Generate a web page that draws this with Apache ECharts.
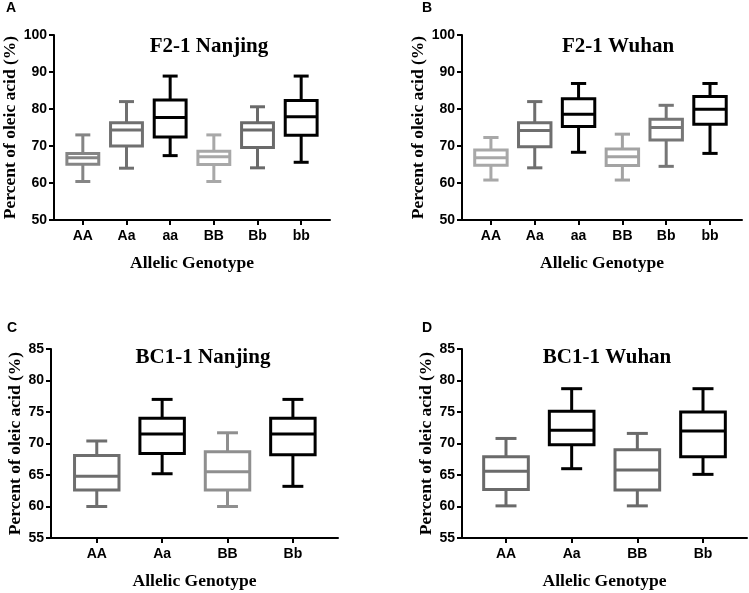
<!DOCTYPE html>
<html>
<head>
<meta charset="utf-8">
<script src="https://cdn.jsdelivr.net/npm/echarts@6/dist/echarts.min.js"></script>
<style>
html,body{margin:0;padding:0;background:#fff;}
#chart{width:749px;height:593px;}
</style>
</head>
<body>
<div id="chart"></div>
<script>
// ---- data ----
const catsF2 = ['AA', 'Aa', 'aa', 'BB', 'Bb', 'bb'];
const catsBC = ['AA', 'Aa', 'BB', 'Bb'];
// each box: [min, Q1, median, Q3, max]
const f2Nanjing = [
  [60.4, 65.1, 66.8, 68.0, 73.0],
  [64.0, 70.0, 74.3, 76.3, 82.0],
  [67.4, 72.4, 77.7, 82.4, 88.9],
  [60.4, 65.0, 67.1, 68.6, 73.0],
  [64.1, 69.6, 74.3, 76.3, 80.6],
  [65.6, 72.9, 77.9, 82.3, 88.9]
];
const f2Wuhan = [
  [60.8, 64.8, 66.8, 68.9, 72.3],
  [64.1, 69.8, 74.2, 76.3, 82.0],
  [68.3, 75.3, 78.6, 82.8, 86.9],
  [60.8, 64.7, 67.1, 69.2, 73.2],
  [64.5, 71.6, 75.0, 77.2, 81.0],
  [68.0, 75.9, 79.9, 83.4, 86.9]
];
const bcNanjing = [
  [60.0, 62.6, 64.8, 68.1, 70.4],
  [65.2, 68.4, 71.5, 74.0, 77.0],
  [60.0, 62.6, 65.5, 68.7, 71.7],
  [63.2, 68.2, 71.5, 74.0, 77.0]
];
const bcWuhan = [
  [60.1, 62.7, 65.6, 67.9, 70.8],
  [66.0, 69.8, 72.1, 75.1, 78.7],
  [60.1, 62.6, 65.8, 69.0, 71.6],
  [65.1, 67.9, 72.0, 75.0, 78.7]
];
const titles = ['F2-1 Nanjing', 'F2-1 Wuhan', 'BC1-1 Nanjing', 'BC1-1 Wuhan'];
const letters = ['A', 'B', 'C', 'D'];
const yTitle = 'Percent of oleic acid (%)';
const xTitle = 'Allelic Genotype';

// ---- styles ----
const colorsA = ['#858585', '#707070', '#000000', '#a8a8a8', '#6a6a6a', '#000000'];
const colorsB = ['#a8a8a8', '#6e6e6e', '#000000', '#a3a3a3', '#767676', '#000000'];
const colorsC = ['#6e6e6e', '#000000', '#8f8f8f', '#000000'];
const colorsD = ['#6a6a6a', '#000000', '#6a6a6a', '#000000'];

const panels = [
  {boxes: f2Nanjing, cats: catsF2, colors: colorsA, grid: {left: 53, top: 35, width: 277, height: 185}, xr: [-0.66, 5.66], yr: [50, 100, 10], yGap: 35, boxFrac: 0.73, tx: 209, ty: 36, lx: 6, ly: 1},
  {boxes: f2Wuhan, cats: catsF2, colors: colorsB, grid: {left: 462, top: 35, width: 280, height: 185}, xr: [-0.66, 5.73], yr: [50, 100, 10], yGap: 35, boxFrac: 0.74, tx: 618, ty: 36, lx: 422, ly: 1},
  {boxes: bcNanjing, cats: catsBC, colors: colorsC, grid: {left: 51, top: 349, width: 287, height: 189}, xr: [-0.7, 3.69], yr: [55, 85, 5], yGap: 27, boxFrac: 0.68, tx: 203, ty: 347, lx: 7, ly: 321},
  {boxes: bcWuhan, cats: catsBC, colors: colorsD, grid: {left: 462, top: 349, width: 285, height: 189}, xr: [-0.67, 3.67], yr: [55, 85, 5], yGap: 27, boxFrac: 0.68, tx: 607, ty: 347, lx: 422, ly: 321}
];

function makeRender(colors, boxFrac) {
  return function (params, api) {
    const i = api.value(0);
    const pMin = api.coord([i, api.value(1)]);
    const pQ1 = api.coord([i, api.value(2)]);
    const pMed = api.coord([i, api.value(3)]);
    const pQ3 = api.coord([i, api.value(4)]);
    const pMax = api.coord([i, api.value(5)]);
    const bw = api.size([1, 0])[0] * boxFrac;
    const cw = bw * 0.47;
    const x = pMin[0];
    const st = {stroke: colors[params.dataIndex], lineWidth: 3, fill: null, lineCap: 'butt'};
    return {
      type: 'group',
      children: [
        {type: 'line', shape: {x1: x, y1: pQ3[1], x2: x, y2: pMax[1]}, style: st},
        {type: 'line', shape: {x1: x, y1: pQ1[1], x2: x, y2: pMin[1]}, style: st},
        {type: 'line', shape: {x1: x - cw / 2, y1: pMax[1], x2: x + cw / 2, y2: pMax[1]}, style: st},
        {type: 'line', shape: {x1: x - cw / 2, y1: pMin[1], x2: x + cw / 2, y2: pMin[1]}, style: st},
        {type: 'rect', shape: {x: x - bw / 2, y: pQ3[1], width: bw, height: pQ1[1] - pQ3[1]}, style: {stroke: colors[params.dataIndex], lineWidth: 3, fill: '#ffffff'}},
        {type: 'line', shape: {x1: x - bw / 2, y1: pMed[1], x2: x + bw / 2, y2: pMed[1]}, style: st}
      ]
    };
  };
}

const sansBold = {fontFamily: 'Liberation Sans, Arial, sans-serif', fontWeight: 'bold', color: '#000'};
const serifBold = {fontFamily: 'Liberation Serif, Times New Roman, serif', fontWeight: 'bold', color: '#000'};

const option = {
  animation: false,
  backgroundColor: '#ffffff',
  title: [],
  grid: [],
  xAxis: [],
  yAxis: [],
  series: []
};

panels.forEach((p, k) => {
  option.grid.push(Object.assign({containLabel: false}, p.grid));
  option.title.push({text: titles[k], left: p.tx, top: p.ty, textAlign: 'center', padding: 0,
    textStyle: Object.assign({fontSize: 21}, serifBold)});
  option.title.push({text: letters[k], left: p.lx, top: p.ly, padding: 0,
    textStyle: Object.assign({fontSize: 14}, sansBold)});
  const idx = p.cats.map((c, i) => i);
  option.xAxis.push({
    type: 'value', gridIndex: k, min: p.xr[0], max: p.xr[1],
    name: xTitle, nameLocation: 'middle', nameGap: 34,
    nameTextStyle: Object.assign({fontSize: 17.5}, serifBold),
    axisLine: {show: true, onZero: false, lineStyle: {color: '#000', width: 2}},
    axisTick: {show: true, length: 5, lineStyle: {color: '#000', width: 2}, customValues: idx},
    axisLabel: {show: true, margin: 9, fontSize: 14, fontFamily: sansBold.fontFamily, fontWeight: 'bold', color: '#000',
      customValues: idx, formatter: v => p.cats[Math.round(v)]},
    splitLine: {show: false}
  });
  option.yAxis.push({
    type: 'value', gridIndex: k, min: p.yr[0], max: p.yr[1], interval: p.yr[2],
    name: yTitle, nameLocation: 'middle', nameGap: p.yGap,
    nameTextStyle: Object.assign({fontSize: 17.5}, serifBold),
    axisLine: {show: true, onZero: false, lineStyle: {color: '#000', width: 2}},
    axisTick: {show: true, length: 5, lineStyle: {color: '#000', width: 2}},
    axisLabel: {margin: 7, fontSize: 14, fontFamily: sansBold.fontFamily, fontWeight: 'bold', color: '#000'},
    splitLine: {show: false}
  });
  option.series.push({
    type: 'custom', xAxisIndex: k, yAxisIndex: k,
    renderItem: makeRender(p.colors, p.boxFrac),
    encode: {x: 0, y: [1, 2, 3, 4, 5]},
    data: p.boxes.map((b, i) => [i].concat(b)),
    clip: false
  });
});

const chart = echarts.init(document.getElementById('chart'), null, {renderer: 'canvas'});
chart.setOption(option);
</script>
</body>
</html>
